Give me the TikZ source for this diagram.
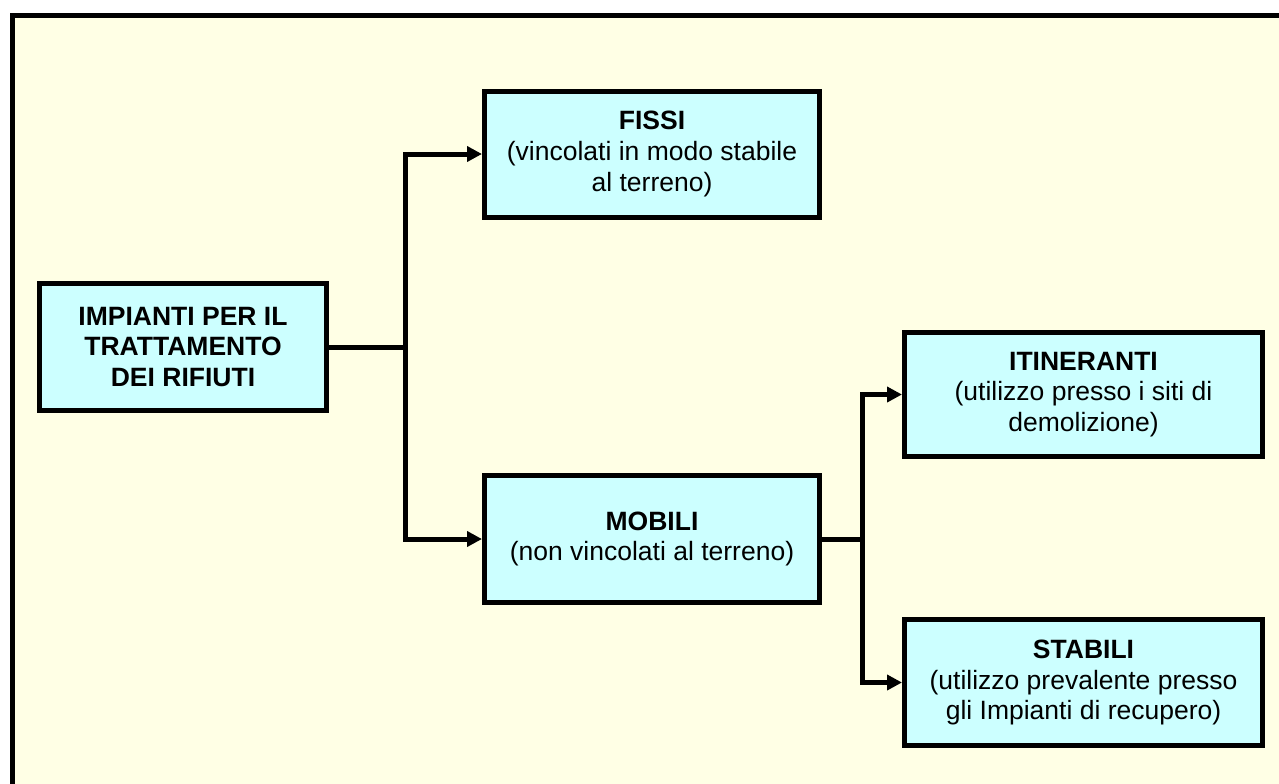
\documentclass[tikz,border=0pt]{standalone}
\usepackage{fontspec}
\setmainfont{Liberation Sans}
\usetikzlibrary{arrows.meta}
\definecolor{bgcream}{HTML}{FFFFE5}
\definecolor{boxcyan}{HTML}{CCFFFF}

\begin{document}
\begin{tikzpicture}[x=0.5pt, y=-0.5pt,
    box/.style={draw, line width=2.5pt, fill=boxcyan, align=center, inner sep=2pt,
      font=\fontsize{13.25}{15.4}\selectfont},
    link/.style={line width=2.5pt, line join=miter},
    arr/.style={link, -{Triangle[length=7.5pt, width=7.5pt]}}]
  \useasboundingbox (0,0) rectangle (1279,783);
  \fill[white] (0,0) rectangle (1279,783);
  \begin{scope}
    \clip (0,0) rectangle (1279,783);
    \fill[bgcream] (12.5,15.5) rectangle (1300,800);
    \draw[line width=2.5pt] (12.5,15.5) rectangle (1300,800);
  \end{scope}
  \node[box, minimum width=143.5pt, minimum height=63.5pt] (root) at (183,347)
    {\textbf{IMPIANTI PER IL}\\\textbf{TRATTAMENTO}\\\textbf{DEI RIFIUTI}};
  \node[box, minimum width=167.5pt, minimum height=63pt] (fissi) at (652,154)
    {\textbf{FISSI}\\(vincolati in modo stabile\\al terreno)};
  \node[box, minimum width=167.5pt, minimum height=63.5pt] (mobili) at (652,539)
    {\textbf{MOBILI}\\(non vincolati al terreno)};
  \node[box, minimum width=179pt, minimum height=62pt] (itin) at (1083.5,394.5)
    {\textbf{ITINERANTI}\\(utilizzo presso i siti di\\demolizione)};
  \node[box, minimum width=179pt, minimum height=63pt] (stab) at (1083.5,682.5)
    {\textbf{STABILI}\\(utilizzo prevalente presso\\gli Impianti di recupero)};
  \coordinate (j1) at (405,347);
  \coordinate (j2) at (862,539);
  \draw[link] (root.east) -- (j1);
  \draw[arr] (j1) |- (fissi.west);
  \draw[arr] (j1) |- (mobili.west);
  \draw[link] (mobili.east) -- (j2);
  \draw[arr] (j2) |- (itin.west);
  \draw[arr] (j2) |- (stab.west);
\end{tikzpicture}
\end{document}
